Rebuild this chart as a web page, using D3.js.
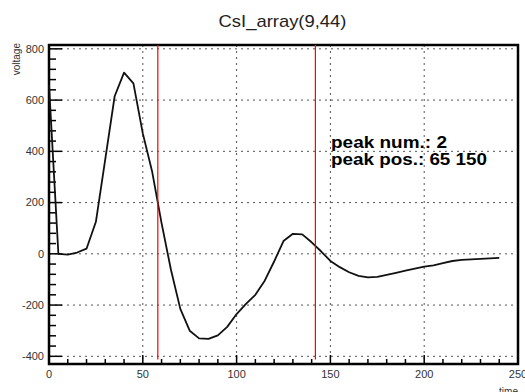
<!DOCTYPE html>
<html>
<head>
<meta charset="utf-8">
<script src="https://cdn.jsdelivr.net/npm/d3@7"></script>
<style>
    body { margin: 0; background: #fff; }
    #chart { width: 525px; height: 392px; overflow: hidden; }
    text { font-family: "Liberation Sans", Arial, sans-serif; }
</style>
</head>
<body>
<div id="chart"></div>
<script>
// Waveform samples (time, voltage)
var times = [0, 5, 10, 15, 20, 25, 30, 35, 40, 45, 50, 55, 60, 65, 70, 75, 80, 85, 90, 95,
    100, 105, 110, 115, 120, 125, 130, 135, 140, 145, 150, 155, 160, 165, 170, 175, 180, 185,
    190, 195, 200, 205, 210, 215, 220, 225, 230, 235, 240];
var voltages = [660, 0, -3, 5, 20, 125, 370, 615, 707, 665, 470, 320, 120, -62, -215, -300, -330, -332, -318, -285,
    -235, -195, -160, -105, -30, 50, 78, 76, 45, 10, -28, -52, -72, -86, -92, -90, -82, -74,
    -66, -58, -50, -45, -36, -28, -24, -22, -20, -18, -16];

// Found peaks and the marker lines
var peakCount = 2;
var peakPositions = [65, 150];
var markerTimes = [58, 142];

// Axis ticks
var xTicks = [0, 50, 100, 150, 200, 250];
var yTicks = [-400, -200, 0, 200, 400, 600, 800];

var chartTitle = "CsI_array(9,44)";

var frame = { left: 49, right: 518, top: 45, bottom: 364 };

var svg = d3.select("#chart").append("svg")
    .attr("width", 525)
    .attr("height", 392);

var xScale = d3.scaleLinear()
    .domain([0, 250])
    .range([frame.left, frame.right]);

var yScale = d3.scaleLinear()
    .domain([-430, 815])
    .range([frame.bottom, frame.top]);

// Dotted grid
svg.append("g")
    .selectAll("line")
    .data(xTicks.filter(d => d > 0 && d < 250))
    .enter().append("line")
    .attr("x1", d => xScale(d))
    .attr("x2", d => xScale(d))
    .attr("y1", frame.top)
    .attr("y2", frame.bottom)
    .attr("stroke", "#555")
    .attr("stroke-dasharray", "2,4");

svg.append("g")
    .selectAll("line")
    .data(yTicks)
    .enter().append("line")
    .attr("x1", frame.left)
    .attr("x2", frame.right)
    .attr("y1", d => yScale(d))
    .attr("y2", d => yScale(d))
    .attr("stroke", "#555")
    .attr("stroke-dasharray", "2,4");

// Minor and major ticks on the left axis (pointing inside)
var yMinor = d3.range(-400, 801, 40);
svg.append("g")
    .selectAll("line")
    .data(yMinor)
    .enter().append("line")
    .attr("x1", frame.left)
    .attr("x2", d => frame.left + (yTicks.indexOf(d) >= 0 ? 13 : 7))
    .attr("y1", d => yScale(d))
    .attr("y2", d => yScale(d))
    .attr("stroke", "#000")
    .attr("stroke-width", 1.5);

// Ticks on the bottom axis (pointing up)
var xMinor = d3.range(0, 251, 10);
svg.append("g")
    .selectAll("line")
    .data(xMinor)
    .enter().append("line")
    .attr("x1", d => xScale(d))
    .attr("x2", d => xScale(d))
    .attr("y1", frame.bottom)
    .attr("y2", d => frame.bottom - (d % 50 === 0 ? 9 : 5))
    .attr("stroke", "#000")
    .attr("stroke-width", 1.5);

// Frame
svg.append("rect")
    .attr("x", frame.left)
    .attr("y", frame.top)
    .attr("width", frame.right - frame.left)
    .attr("height", frame.bottom - frame.top)
    .attr("fill", "none")
    .attr("stroke", "#000")
    .attr("stroke-width", 2.5);

// Tick labels
svg.append("g")
    .selectAll("text")
    .data(yTicks)
    .enter().append("text")
    .attr("x", frame.left - 5)
    .attr("y", d => yScale(d))
    .attr("dy", "0.35em")
    .attr("text-anchor", "end")
    .style("font-size", "11px")
    .style("fill", "#333")
    .text(d => d);

svg.append("g")
    .selectAll("text")
    .data(xTicks)
    .enter().append("text")
    .attr("x", d => xScale(d))
    .attr("y", 378)
    .attr("text-anchor", "middle")
    .style("font-size", "11px")
    .style("fill", "#333")
    .text(d => d);

// Axis titles
svg.append("text")
    .attr("x", frame.right)
    .attr("y", 395)
    .attr("text-anchor", "end")
    .style("font-size", "10px")
    .style("fill", "#333")
    .text("time");

svg.append("text")
    .attr("transform", "translate(20," + (frame.top - 2) + ") rotate(-90)")
    .attr("text-anchor", "end")
    .style("font-size", "10px")
    .style("fill", "#333")
    .text("voltage");

// Waveform
var points = times.map((t, i) => [t, voltages[i]]);
var line = d3.line()
    .x(d => xScale(d[0]))
    .y(d => yScale(d[1]));

svg.append("path")
    .datum(points)
    .attr("d", line)
    .attr("fill", "none")
    .attr("stroke", "#111")
    .attr("stroke-width", 1.8)
    .attr("stroke-linejoin", "round");

// Peak markers
svg.append("g")
    .selectAll("line")
    .data(markerTimes)
    .enter().append("line")
    .attr("x1", d => xScale(d))
    .attr("x2", d => xScale(d))
    .attr("y1", yScale(-412))
    .attr("y2", frame.top)
    .attr("stroke", "#f00")
    .attr("stroke-width", 1.2);

// Peak info text
svg.append("text")
    .attr("x", 331)
    .attr("y", 148)
    .attr("textLength", 116)
    .attr("lengthAdjust", "spacingAndGlyphs")
    .style("font-size", "16px")
    .style("font-weight", "bold")
    .text("peak num.: " + peakCount);

svg.append("text")
    .attr("x", 331)
    .attr("y", 165)
    .attr("textLength", 156)
    .attr("lengthAdjust", "spacingAndGlyphs")
    .style("font-size", "16px")
    .style("font-weight", "bold")
    .text("peak pos.: " + peakPositions.join(" "));

// Title
svg.append("text")
    .attr("x", 282.5)
    .attr("y", 27)
    .attr("text-anchor", "middle")
    .attr("textLength", 128)
    .attr("lengthAdjust", "spacingAndGlyphs")
    .style("font-size", "17px")
    .style("fill", "#222")
    .text(chartTitle);
</script>
</body>
</html>
